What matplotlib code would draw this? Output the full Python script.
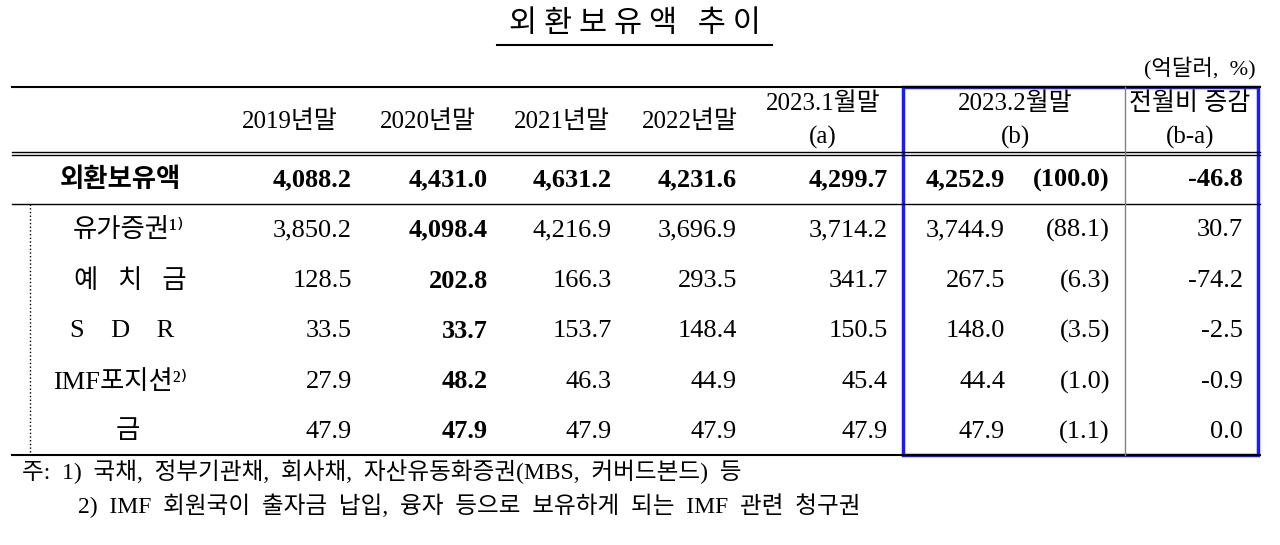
import matplotlib
matplotlib.use("Agg")
import matplotlib.pyplot as plt
from matplotlib.patches import Rectangle

title = "외 환 보 유 액   추 이"
unit = "(억달러,  %)"
headers = ["2019년말", "2020년말", "2021년말", "2022년말", "2023.1월말\n(a)", "2023.2월말\n(b)", "전월비 증감\n(b-a)"]
row_labels = ["외환보유액", "유가증권¹⁾", "예   치   금", "S    D    R", "IMF포지션²⁾", "금"]
y2019 = ["4,088.2", "3,850.2", "128.5", "33.5", "27.9", "47.9"]
y2020 = ["4,431.0", "4,098.4", "202.8", "33.7", "48.2", "47.9"]
y2021 = ["4,631.2", "4,216.9", "166.3", "153.7", "46.3", "47.9"]
y2022 = ["4,231.6", "3,696.9", "293.5", "148.4", "44.9", "47.9"]
jan23 = ["4,299.7", "3,714.2", "341.7", "150.5", "45.4", "47.9"]
feb23 = ["4,252.9", "3,744.9", "267.5", "148.0", "44.4", "47.9"]
feb23_share = ["(100.0)", "(88.1)", "(6.3)", "(3.5)", "(1.0)", "(1.1)"]
change = ["-46.8", "30.7", "-74.2", "-2.5", "-0.9", "0.0"]
notes = ["주:  1)  국채,  정부기관채,  회사채,  자산유동화증권(MBS,  커버드본드)  등",
         "2)  IMF  회원국이  출자금  납입,  융자  등으로  보유하게  되는  IMF  관련  청구권"]

FAM = ["Liberation Serif", "Noto Sans CJK KR", "DejaVu Sans"]
KFAM = ["Noto Sans CJK KR", "DejaVu Sans"]

fig = plt.figure(figsize=(12.8, 5.45), dpi=100)
ax = fig.add_axes([0, 0, 1, 1])
ax.set_xlim(0, 1280); ax.set_ylim(545, 0); ax.axis("off")

ax.text(635, 24, title, ha="center", va="center", fontsize=22, family=KFAM)
ax.plot([497, 772], [45, 45], color="black", lw=1.5)
ax.text(1256, 68, unit, ha="right", va="center", fontsize=16, family=FAM)

ax.plot([12, 1260], [87, 87], color="black", lw=1.5)
ax.plot([12, 1260], [152, 152], color="black", lw=1)
ax.plot([12, 1260], [155, 155], color="black", lw=1)
ax.plot([12, 1260], [204, 204], color="black", lw=1)
ax.plot([12, 1260], [455, 455], color="black", lw=1.5)
ax.plot([30, 30], [204, 455], color="black", lw=1, ls=":")
ax.plot([1125, 1125], [87, 455], color="gray", lw=1)

hx = [290, 428, 562, 690, 823, 1015, 1190]
for x, h in zip(hx, headers):
    if "\n" in h:
        a, b = h.split("\n")
        ax.text(x, 104, a, ha="center", va="center", fontsize=18, family=FAM)
        ax.text(x, 137, b, ha="center", va="center", fontsize=18, family=FAM)
    else:
        ax.text(x, 122, h, ha="center", va="center", fontsize=18, family=FAM)

rows_y = [180, 230, 281, 331, 382, 432]
lab_x = [120, 128, 130, 122, 120, 128]
cols = [(352, y2019), (488, y2020), (612, y2021), (737, y2022), (888, jan23),
        (1005, feb23), (1110, feb23_share), (1243, change)]
for i, y in enumerate(rows_y):
    bold_row = i == 0
    ax.text(lab_x[i], y, row_labels[i], ha="center", va="center", fontsize=19,
            family=FAM, weight="bold" if bold_row else "normal")
    for j, (x, vals) in enumerate(cols):
        b = bold_row or (j == 1)
        ax.text(x, y, vals[i], ha="right", va="center", fontsize=19, family=FAM,
                weight="bold" if b else "normal")

ax.add_patch(Rectangle((903, 87), 355, 368, fill=False, edgecolor="#1a1aff", lw=2.5))

ax.text(22, 472, notes[0], ha="left", va="center", fontsize=17, family=FAM)
ax.text(78, 506, notes[1], ha="left", va="center", fontsize=17, family=FAM)

fig.savefig("out.png", dpi=100)
